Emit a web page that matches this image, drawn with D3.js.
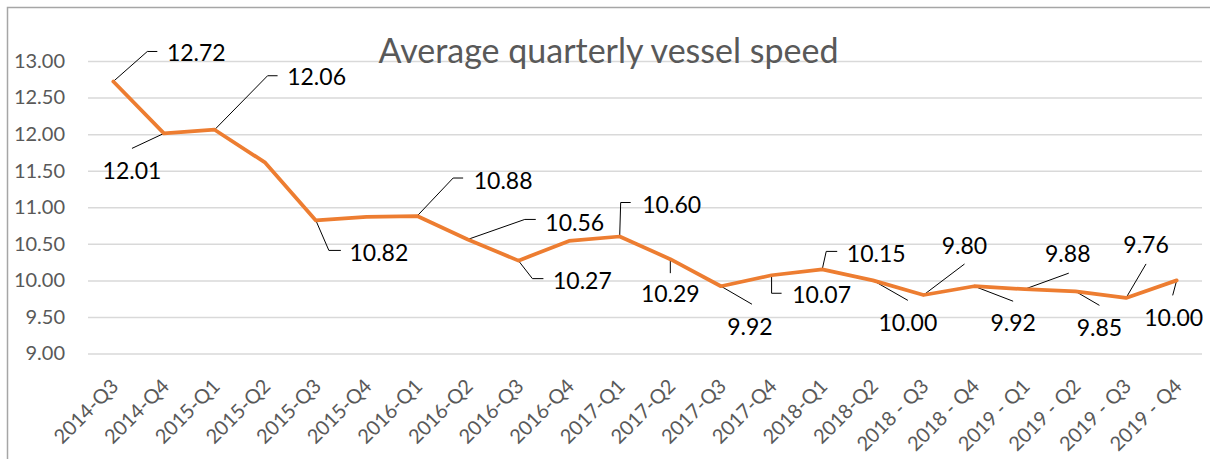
<!DOCTYPE html>
<html>
<head>
<meta charset="utf-8">
<script src="https://cdn.jsdelivr.net/npm/d3@7"></script>
<style>
  body { margin: 0; background: #fff; }
  svg { display: block; font-family: Lato, "Open Sans", sans-serif; }
</style>
</head>
<body>
<script>
// chart data
const categories = ["2014-Q3", "2014-Q4", "2015-Q1", "2015-Q2", "2015-Q3", "2015-Q4",
                    "2016-Q1", "2016-Q2", "2016-Q3", "2016-Q4", "2017-Q1", "2017-Q2",
                    "2017-Q3", "2017-Q4", "2018-Q1", "2018-Q2", "2018 - Q3", "2018 - Q4",
                    "2019 - Q1", "2019 - Q2", "2019 - Q3", "2019 - Q4"];
const speed = [12.72, 12.01, 12.06, 11.61, 10.82, 10.87, 10.88, 10.56, 10.27, 10.54, 10.60,
               10.29, 9.92, 10.07, 10.15, 10.00, 9.80, 9.92, 9.88, 9.85, 9.76, 10.00];
const labelled = ["2014-Q3", "2014-Q4", "2015-Q1", "2015-Q3", "2016-Q1", "2016-Q2", "2016-Q3",
                  "2017-Q1", "2017-Q2", "2017-Q3", "2017-Q4", "2018-Q1", "2018-Q2", "2018 - Q3",
                  "2018 - Q4", "2019 - Q1", "2019 - Q2", "2019 - Q3", "2019 - Q4"];
const yTicks = [9.0, 9.5, 10.0, 10.5, 11.0, 11.5, 12.0, 12.5, 13.0];
const title = "Average quarterly vessel speed";

// manual placement of data labels (text offset + leader line), like in the excel sheet
const labelPlace = {
  "2014-Q3":   { t: [83, -29],  lead: [[0, 0], [34, -30], [44, -30]] },
  "2014-Q4":   { t: [-32, 37],  lead: [[0, 0], [-32, 15]] },
  "2015-Q1":   { t: [102, -53], lead: [[0, 0], [53, -54], [63, -54]] },
  "2015-Q3":   { t: [63, 32],   lead: [[0, 0], [13, 30], [25, 30]] },
  "2016-Q1":   { t: [86, -35],  lead: [[0, 0], [36, -38], [46, -38]] },
  "2016-Q2":   { t: [107, -17], lead: [[0, 0], [57, -20], [68, -20]] },
  "2016-Q3":   { t: [64, 20],   lead: [[0, 0], [14, 18], [25, 18]] },
  "2017-Q1":   { t: [52, -32],  lead: [[0, 0], [1, -34], [11, -34]] },
  "2017-Q2":   { t: [0, 35],    lead: [[0, 0], [0, 14]] },
  "2017-Q3":   { t: [29, 40],   lead: [[0, 0], [31, 18]] },
  "2017-Q4":   { t: [50, 19],   lead: [[0, 0], [0, 18], [10, 18]] },
  "2018-Q1":   { t: [54, -16],  lead: [[0, 0], [4, -18], [15, -18]] },
  "2018-Q2":   { t: [35, 42],   lead: [[0, 0], [35, 20]] },
  "2018 - Q3": { t: [41, -49],  lead: [[0, 0], [41, -31]] },
  "2018 - Q4": { t: [39, 36],   lead: [[0, 0], [39, 15]] },
  "2019 - Q1": { t: [43, -35],  lead: [[0, 0], [44, -16]] },
  "2019 - Q2": { t: [24, 36],   lead: [[0, 0], [24, 14]] },
  "2019 - Q3": { t: [20, -53],  lead: [[0, 0], [20, -34]] },
  "2019 - Q4": { t: [-3, 37],   lead: [[0, 0], [-4, 15]] }
};

const WIDTH = 1210;
const HEIGHT = 459;
const PLOT = { left: 88, right: 1202, top: 61, bottom: 353.5 };
const ORANGE = "#ED7D31";
const GREY = "#595959";

const svg = d3.select("body")
              .append("svg")
              .attr("width", WIDTH)
              .attr("height", HEIGHT);

// chart frame
svg.append("rect")
   .attr("x", 7.5)
   .attr("y", 7.5)
   .attr("width", WIDTH + 20)
   .attr("height", HEIGHT + 20)
   .attr("fill", "white")
   .attr("stroke", "#A6A6A6")
   .attr("stroke-width", 1.5);

const x = d3.scalePoint()
            .domain(categories)
            .range([PLOT.left, PLOT.right])
            .padding(0.5);

const y = d3.scaleLinear()
            .domain([9, 13])
            .range([PLOT.bottom, PLOT.top]);

// gridlines + y labels
const yAxis = svg.append("g")
                 .attr("transform", "translate(" + PLOT.left + ",0)")
                 .call(d3.axisLeft(y)
                         .tickValues(yTicks)
                         .tickFormat(d3.format(".2f"))
                         .tickSize(-(PLOT.right - PLOT.left))
                         .tickPadding(23));
yAxis.select(".domain").remove();
yAxis.selectAll(".tick line")
     .attr("stroke", "#D9D9D9")
     .attr("stroke-width", 1.5);
yAxis.selectAll(".tick text")
     .attr("fill", GREY)
     .attr("font-size", 20)
     .attr("font-family", "Lato");

// x labels, rotated
const xAxis = svg.append("g")
                 .attr("transform", "translate(0," + PLOT.bottom + ")")
                 .call(d3.axisBottom(x).tickSize(0));
xAxis.select(".domain").remove();
xAxis.selectAll(".tick text")
     .attr("fill", GREY)
     .attr("font-size", 20)
     .attr("font-family", "Lato")
     .attr("text-anchor", "end")
     .attr("dy", null)
     .attr("y", 0)
     .attr("transform", "translate(6,34) rotate(-45)");

// title
svg.append("text")
   .attr("x", 608.5)
   .attr("y", 63)
   .attr("text-anchor", "middle")
   .attr("fill", GREY)
   .attr("font-size", 34)
   .text(title);

const points = categories.map((c, i) => ({ cat: c, value: speed[i] }));
const labelPoints = points.filter(d => labelled.includes(d.cat));

// leader lines
svg.append("g")
   .selectAll("path")
   .data(labelPoints)
   .join("path")
   .attr("d", d => d3.line()(labelPlace[d.cat].lead.map(p => [x(d.cat) + p[0], y(d.value) + p[1]])))
   .attr("fill", "none")
   .attr("stroke", "black")
   .attr("stroke-width", 1);

// series line
svg.append("path")
   .datum(points)
   .attr("d", d3.line().x(d => x(d.cat)).y(d => y(d.value)))
   .attr("fill", "none")
   .attr("stroke", ORANGE)
   .attr("stroke-width", 3.75)
   .attr("stroke-linejoin", "round")
   .attr("stroke-linecap", "round");

// data labels
svg.append("g")
   .selectAll("text")
   .data(labelPoints)
   .join("text")
   .attr("x", d => x(d.cat) + labelPlace[d.cat].t[0])
   .attr("y", d => y(d.value) + labelPlace[d.cat].t[1])
   .attr("dy", "0.36em")
   .attr("text-anchor", "middle")
   .attr("font-size", 23)
   .attr("fill", "black")
   .text(d => d3.format(".2f")(d.value));
</script>
</body>
</html>
